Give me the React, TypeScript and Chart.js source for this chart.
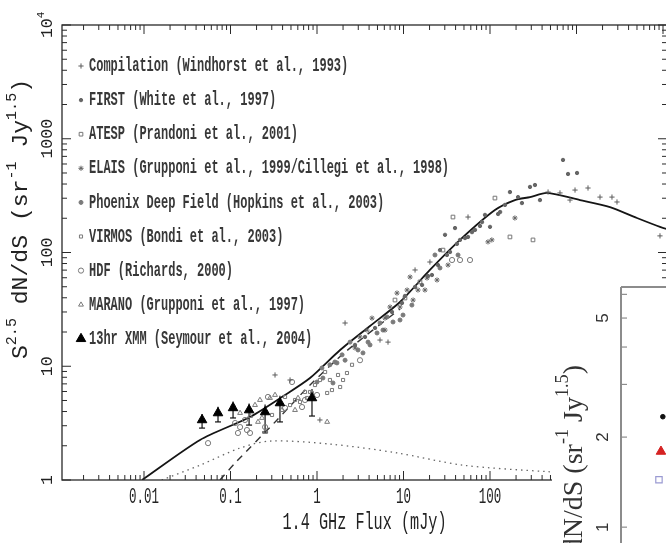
import React, { useEffect, useRef } from "react";
import { Chart, registerables } from "chart.js";
import { drawPoint } from "chart.js/helpers";

Chart.register(...registerables);

type Pt = [number, number];

// ---------------- data ----------------
const xTickValues = [0.01, 0.1, 1, 10, 100];
const xTickLabels = ["0.01", "0.1", "1", "10", "100"];
const yTickValues = [1, 10, 100, 1000, 10000];
const yTickLabels = ["1", "10", "100", "1000", "10^{4}"];

const xTitle = "1.4 GHz Flux (mJy)";
const yTitle = "S^{2.5} dN/dS (sr^{-1} Jy^{1.5})";

const legendLabels = [
  "Compilation (Windhorst et al., 1993)",
  "FIRST (White et al., 1997)",
  "ATESP (Prandoni et al., 2001)",
  "ELAIS (Grupponi et al., 1999/Cillegi et al., 1998)",
  "Phoenix Deep Field (Hopkins et al., 2003)",
  "VIRMOS (Bondi et al., 2003)",
  "HDF (Richards, 2000)",
  "MARANO (Grupponi et al., 1997)",
  "13hr XMM (Seymour et al., 2004)",
];

const compilation: Pt[] = [
  [469, 340], [644, 334], [841, 289], [961, 354], [1358, 369], [1869, 307], [2570, 307],
  [2938, 278], [9227, 140], [55.7, 205], [5.35, 17.0], [2.11, 24.0], [6.62, 16.3],
  [0.327, 8.38], [0.488, 7.57], [1.08, 3.37], [13.6, 70.2], [20.2, 82.5],
];
const first: Pt[] = [
  [698, 651], [798, 490], [1014, 500], [290, 377], [331, 392], [170, 340], [211, 307],
  [378, 289], [149, 262], [131, 227], [80.9, 185], [100, 168], [67.1, 158], [87.5, 214],
  [45.0, 129], [55.7, 137], [39.4, 164], [30.2, 143], [26.4, 105],
  [2.75, 15.4], [3.59, 18.1], [4.69, 21.7], [7.36, 30.0], [9.61, 36.0], [16.4, 51.8],
  [21.3, 63.4], [34.5, 101], [61.9, 151], [76.6, 171], [124, 218], [234, 272],
  [10.4, 41.5], [13.6, 49.8], [19.2, 62.1], [25.0, 77.6], [31.8, 95.1], [41.5, 119], [51.4, 134],
];
const atesp: Pt[] = [
  [114, 301], [170, 137], [314, 129], [37.3, 205], [28.6, 105], [15.5, 55.1], [10.4, 39.8], [7.97, 38.2],
];
const elais: Pt[] = [
  [194, 201], [105, 129], [94.8, 124], [11.9, 60.9], [18.7, 59.7], [11.0, 46.8], [14.7, 46.8],
  [8.41, 44.0], [9.11, 33.2], [6.98, 33.2], [4.32, 26.5], [6.11, 20.8], [3.14, 18.1],
  [3.78, 20.8], [2.75, 14.5], [12.9, 38.2], [17.7, 46.8], [24.4, 57.3], [32.7, 77.6], [6.11, 26.5],
];
const phoenix: Pt[] = [
  [9.11, 25.5], [6.45, 27.1], [5.35, 24.0], [4.94, 19.6], [3.40, 13.1], [4.10, 15.4],
  [2.41, 16.3], [1.95, 12.6], [2.11, 11.3], [1.61, 10.9], [1.41, 10.3], [1.14, 9.66],
  [1.70, 10.7], [1.17, 7.88], [1.0, 7.27], [1.53, 7.13], [12.5, 34.5], [26.4, 73.1], [23.1, 95.1],
  [2.98, 13.9], [3.89, 16.3], [5.79, 20.8], [7.56, 24.5], [9.87, 28.2], [42.7, 95.1],
];
const virmos: Pt[] = [
  [1.24, 8.90], [1.75, 8.38], [1.85, 6.57], [2.22, 8.72], [1.08, 7.57], [0.948, 6.84],
  [1.41, 7.57], [0.875, 5.82], [0.726, 5.94], [0.636, 4.85], [1.31, 5.82], [0.557, 5.05],
  [0.488, 4.56], [0.427, 5.37], [2.54, 10.3], [2.0, 7.57], [1.49, 6.18], [0.766, 5.26],
  [0.302, 3.73], [0.830, 5.94],
];
const hdf: Pt[] = [
  [36.4, 85.9], [45.0, 85.9], [58.7, 85.9], [3.14, 11.3], [0.514, 7.27], [0.271, 5.37],
  [0.113, 3.17], [0.129, 2.92], [0.155, 2.75], [0.122, 2.59], [0.168, 2.59], [0.055, 2.11],
  [0.251, 2.92], [0.671, 4.38], [1.0, 5.59], [0.147, 3.37], [0.427, 4.30], [0.726, 5.05],
];
const marano: Pt[] = [
  [0.192, 4.56], [0.219, 5.05], [0.286, 5.26], [0.327, 5.59], [0.168, 3.65], [0.231, 3.51],
  [0.394, 4.12], [0.603, 5.26], [0.107, 4.56], [0.129, 3.88], [0.251, 2.64], [1.31, 3.24],
  [0.208, 3.24], [0.557, 4.12],
];

const xmmFlux = [0.0469, 0.0717, 0.107, 0.164, 0.251, 0.373, 0.875];
const xmmCounts = [3.37, 3.88, 4.30, 4.12, 3.96, 4.75, 5.26];
const xmmErrLow = [2.86, 3.24, 3.51, 3.04, 2.64, 3.24, 3.65];
const xmmErrHigh = [3.8, 4.4, 4.9, 4.7, 4.6, 5.5, 6.3];

const modelTotalFlux = [0.00948, 0.0444, 0.168, 0.427, 0.83, 1.85, 4.10, 9.11, 20.2, 45.0, 114, 194, 290, 456, 1097, 2438, 5000, 9227, 15700];
const modelTotalCounts = [1.0, 2.25, 3.58, 5.59, 7.88, 13.9, 22.6, 36.7, 70.2, 129, 236, 289, 307, 334, 289, 251, 201, 168, 148];

const modelAgnFlux = [0.0756, 0.113, 0.345, 0.83, 2.11, 9.11];
const modelAgnCounts = [1.0, 1.41, 3.37, 6.84, 13.3, 31.9];

const modelSfFlux = [0.016, 0.0444, 0.129, 0.286, 1.41, 8.41, 48.7, 494, 2000];
const modelSfCounts = [1.0, 1.35, 1.91, 2.20, 2.07, 1.73, 1.35, 1.18, 1.12];

// inset panel (partly visible)
const insetYTicks = [1, 2, 5];
const insetYTickLabels = ["1", "2", "5"];
const insetMarkerX = [3.36, 3.21, 3.05];
const insetMarkerY = [2.34, 1.79, 1.44];

// ---------------- helpers ----------------
type Seg = { t: string; sup?: boolean };
function parseRich(s: string): Seg[] {
  const out: Seg[] = [];
  let i = 0;
  let buf = "";
  while (i < s.length) {
    if (s[i] === "^" && s[i + 1] === "{") {
      if (buf) out.push({ t: buf });
      buf = "";
      const j = s.indexOf("}", i);
      out.push({ t: s.slice(i + 2, j), sup: true });
      i = j + 1;
    } else {
      buf += s[i];
      i++;
    }
  }
  if (buf) out.push({ t: buf });
  return out;
}

type TextOpts = {
  size: number;
  family: string;
  weight?: string;
  rot?: number;
  align?: "left" | "center" | "right";
  sx?: number;
  sy?: number;
  color?: string;
};
function drawRich(ctx: CanvasRenderingContext2D, str: string, x: number, y: number, o: TextOpts) {
  const segs = parseRich(str);
  ctx.save();
  ctx.translate(x, y);
  if (o.rot) ctx.rotate(o.rot);
  ctx.scale(o.sx ?? 1, o.sy ?? 1);
  ctx.fillStyle = o.color ?? "#222";
  ctx.textBaseline = "middle";
  ctx.textAlign = "left";
  const w = o.weight ?? "normal";
  const fontFor = (sup?: boolean) => `${w} ${sup ? o.size * 0.65 : o.size}px ${o.family}`;
  let total = 0;
  for (const s of segs) {
    ctx.font = fontFor(s.sup);
    total += ctx.measureText(s.t).width;
  }
  let cx = o.align === "center" ? -total / 2 : o.align === "right" ? -total : 0;
  for (const s of segs) {
    ctx.font = fontFor(s.sup);
    ctx.fillText(s.t, cx, s.sup ? -o.size * 0.42 : 0);
    cx += ctx.measureText(s.t).width;
  }
  ctx.restore();
}

const MONO = '"Liberation Mono", "DejaVu Sans Mono", monospace';
const SERIF = '"Liberation Serif", "DejaVu Serif", serif';
const SANS = '"Liberation Sans", "DejaVu Sans", sans-serif';

const toXY = (a: Pt[]) => a.map(([x, y]) => ({ x, y }));
const zipXY = (xs: number[], ys: number[]) => xs.map((x, i) => ({ x, y: ys[i] }));

function line(ctx: CanvasRenderingContext2D, x1: number, y1: number, x2: number, y2: number) {
  ctx.beginPath();
  ctx.moveTo(x1, y1);
  ctx.lineTo(x2, y2);
  ctx.stroke();
}

// ---------------- plugins ----------------
const mainDecor = {
  id: "mainDecor",
  beforeDraw(chart: any) {
    const ctx = chart.ctx as CanvasRenderingContext2D;
    ctx.save();
    ctx.fillStyle = "#ffffff";
    ctx.fillRect(0, 0, chart.width, chart.height);
    ctx.restore();
  },
  beforeDatasetsDraw(chart: any) {
    const ctx = chart.ctx as CanvasRenderingContext2D;
    const xs = chart.scales.x;
    const ys = chart.scales.y;
    ctx.save();
    ctx.strokeStyle = "#111";
    ctx.lineWidth = 1.2;
    xmmFlux.forEach((f, i) => {
      const px = xs.getPixelForValue(f);
      const lo = ys.getPixelForValue(xmmErrLow[i]);
      const hi = ys.getPixelForValue(xmmErrHigh[i]);
      line(ctx, px, lo, px, hi);
      line(ctx, px - 3, lo, px + 3, lo);
    });
    ctx.restore();
  },
  afterDraw(chart: any) {
    const ctx = chart.ctx as CanvasRenderingContext2D;
    const ca = chart.chartArea;
    const xs = chart.scales.x;
    const ys = chart.scales.y;
    ctx.save();
    ctx.strokeStyle = "#2a2a2a";
    ctx.lineWidth = 1.3;
    ctx.strokeRect(ca.left, ca.top, ca.right - ca.left, ca.bottom - ca.top);
    ctx.lineWidth = 1;
    for (let d = -4; d <= 5; d++) {
      for (let m = 1; m <= 9; m++) {
        const v = m * Math.pow(10, d);
        const len = m === 1 ? 9 : 5;
        if (v >= xs.min && v <= xs.max) {
          const px = xs.getPixelForValue(v);
          line(ctx, px, ca.bottom, px, ca.bottom - len);
          line(ctx, px, ca.top, px, ca.top + len);
        }
        if (v >= ys.min && v <= ys.max) {
          const py = ys.getPixelForValue(v);
          line(ctx, ca.left, py, ca.left + len, py);
          line(ctx, ca.right, py, ca.right - len, py);
        }
      }
    }
    ctx.restore();

    xTickValues.forEach((v, i) => {
      drawRich(ctx, xTickLabels[i], xs.getPixelForValue(v), ca.bottom + 17, {
        size: 12.5, family: MONO, sy: 1.7, align: "center", color: "#222",
      });
    });
    yTickValues.forEach((v, i) => {
      drawRich(ctx, yTickLabels[i], ca.left - 14, ys.getPixelForValue(v), {
        size: 16.5, family: MONO, rot: -Math.PI / 2, align: "center", color: "#222",
      });
    });
    drawRich(ctx, xTitle, (ca.left + ca.right) / 2, ca.bottom + 43, {
      size: 15.2, family: MONO, sy: 1.6, align: "center", color: "#222",
    });
    drawRich(ctx, yTitle, 21, 219, {
      size: 22, family: MONO, rot: -Math.PI / 2, sx: 1.05, align: "center", color: "#222",
    });

    // legend
    legendLabels.forEach((lab, i) => {
      const ds = chart.data.datasets[i];
      const y = ca.top + 41 + 34.1 * i;
      ctx.save();
      ctx.fillStyle = ds.backgroundColor;
      ctx.strokeStyle = ds.borderColor;
      ctx.lineWidth = ds.borderWidth ?? 1;
      drawPoint(ctx, { pointStyle: ds.pointStyle, radius: ds.pointRadius, rotation: 0, borderWidth: ds.borderWidth ?? 1 } as any, ca.left + 19, y);
      ctx.restore();
      drawRich(ctx, lab, ca.left + 27, y, {
        size: 12.0, family: MONO, weight: "bold", sy: 1.7, align: "left", color: "#383838",
      });
    });
  },
};

const insetDecor = {
  id: "insetDecor",
  beforeDraw(chart: any) {
    const ctx = chart.ctx as CanvasRenderingContext2D;
    ctx.save();
    ctx.fillStyle = "#ffffff";
    ctx.fillRect(0, 0, chart.width, chart.height);
    ctx.restore();
  },
  afterDraw(chart: any) {
    const ctx = chart.ctx as CanvasRenderingContext2D;
    const ca = chart.chartArea;
    const ys = chart.scales.y;
    ctx.save();
    ctx.strokeStyle = "#8c8c8c";
    ctx.lineWidth = 2;
    line(ctx, ca.left, ca.top, ca.left, ca.bottom);
    line(ctx, ca.left, ca.top, ca.right, ca.top);
    ctx.lineWidth = 1.2;
    for (let m = 1; m <= 9; m++) {
      if (m >= ys.min && m <= ys.max) {
        const py = ys.getPixelForValue(m);
        line(ctx, ca.left, py, ca.left + 6, py);
      }
    }
    ctx.restore();
    insetYTicks.forEach((v, i) => {
      drawRich(ctx, insetYTickLabels[i], ca.left - 18, ys.getPixelForValue(v), {
        size: 17, family: SANS, rot: -Math.PI / 2, align: "center", color: "#333",
      });
    });
    drawRich(ctx, yTitle, 23, 85, {
      size: 28, family: SERIF, rot: -Math.PI / 2, align: "right", color: "#333",
    });
  },
};

// ---------------- component ----------------
export default function App() {
  const mainRef = useRef<HTMLCanvasElement>(null);
  const insetRef = useRef<HTMLCanvasElement>(null);

  useEffect(() => {
    const grey = "#5c5c5c";
    const mk = (label: string, pts: Pt[], style: string, r: number, fill: string, stroke: string) => ({
      label,
      data: toXY(pts),
      pointStyle: style,
      pointRadius: r,
      backgroundColor: fill,
      borderColor: stroke,
      borderWidth: 1,
      showLine: false,
      order: 5,
    });
    const main = new Chart(mainRef.current!, {
      type: "scatter",
      data: {
        datasets: [
          mk(legendLabels[0], compilation, "cross", 2.6, grey, grey),
          mk(legendLabels[1], first, "circle", 1.7, "#666", "#666"),
          mk(legendLabels[2], atesp, "rect", 2.6, "rgba(0,0,0,0)", "#777"),
          mk(legendLabels[3], elais, "star", 2.6, "rgba(0,0,0,0)", "#666"),
          mk(legendLabels[4], phoenix, "circle", 2.0, "#7a7a7a", "#7a7a7a"),
          mk(legendLabels[5], virmos, "rect", 2.2, "rgba(0,0,0,0)", "#7a7a7a"),
          mk(legendLabels[6], hdf, "circle", 2.6, "rgba(0,0,0,0)", "#7a7a7a"),
          mk(legendLabels[7], marano, "triangle", 2.8, "rgba(0,0,0,0)", "#7a7a7a"),
          {
            label: legendLabels[8],
            data: zipXY(xmmFlux, xmmCounts),
            pointStyle: "triangle",
            pointRadius: 5.5,
            backgroundColor: "#000",
            borderColor: "#000",
            borderWidth: 1,
            showLine: false,
            order: 0,
          },
          {
            label: "model total",
            data: zipXY(modelTotalFlux, modelTotalCounts),
            showLine: true,
            pointRadius: 0,
            borderColor: "#151515",
            borderWidth: 1.8,
            tension: 0.25,
            order: 10,
          },
          {
            label: "model AGN",
            data: zipXY(modelAgnFlux, modelAgnCounts),
            showLine: true,
            pointRadius: 0,
            borderColor: "#333",
            borderWidth: 1.4,
            borderDash: [7, 6],
            tension: 0.2,
            order: 10,
          },
          {
            label: "model SF",
            data: zipXY(modelSfFlux, modelSfCounts),
            showLine: true,
            pointRadius: 0,
            borderColor: "#666",
            borderWidth: 1.3,
            borderDash: [1.5, 4],
            tension: 0.3,
            order: 10,
          },
        ] as any,
      },
      options: {
        responsive: false,
        animation: false,
        devicePixelRatio: 1,
        events: [],
        layout: { padding: { left: 62, top: 25, right: 33, bottom: 63 } },
        plugins: { legend: { display: false }, tooltip: { enabled: false } },
        scales: {
          x: { type: "logarithmic", min: 0.001127, max: 11120, display: false },
          y: { type: "logarithmic", min: 1, max: 10000, display: false },
        },
      } as any,
      plugins: [mainDecor],
    });

    const inset = new Chart(insetRef.current!, {
      type: "scatter",
      data: {
        datasets: [
          {
            label: "a",
            data: [{ x: insetMarkerX[0], y: insetMarkerY[0] }],
            pointStyle: "circle",
            pointRadius: 2.3,
            backgroundColor: "#111",
            borderColor: "#111",
          },
          {
            label: "b",
            data: [{ x: insetMarkerX[1], y: insetMarkerY[1] }],
            pointStyle: "triangle",
            pointRadius: 5.5,
            backgroundColor: "#d52222",
            borderColor: "#d52222",
          },
          {
            label: "c",
            data: [{ x: insetMarkerX[2], y: insetMarkerY[2] }],
            pointStyle: "rect",
            pointRadius: 4.5,
            backgroundColor: "rgba(0,0,0,0)",
            borderColor: "#9a9ad2",
            borderWidth: 1.2,
          },
        ] as any,
      },
      options: {
        responsive: false,
        animation: false,
        devicePixelRatio: 1,
        events: [],
        layout: { padding: { left: 69, top: 7, right: 0, bottom: 0 } },
        plugins: { legend: { display: false }, tooltip: { enabled: false } },
        scales: {
          x: { type: "linear", min: 0, max: 10, display: false },
          y: { type: "logarithmic", min: 0.715, max: 6.35, display: false },
        },
      } as any,
      plugins: [insetDecor],
    });

    return () => {
      main.destroy();
      inset.destroy();
    };
  }, []);

  return (
    <div
      style={{
        position: "fixed",
        left: 0,
        top: 0,
        width: 666,
        height: 543,
        overflow: "hidden",
        background: "#fff",
      }}
    >
      <canvas
        ref={mainRef}
        width={700}
        height={543}
        style={{ position: "absolute", left: 0, top: 0, width: 700, height: 543 }}
      />
      <canvas
        ref={insetRef}
        width={200}
        height={300}
        style={{ position: "absolute", left: 552, top: 280, width: 200, height: 300 }}
      />
    </div>
  );
}
